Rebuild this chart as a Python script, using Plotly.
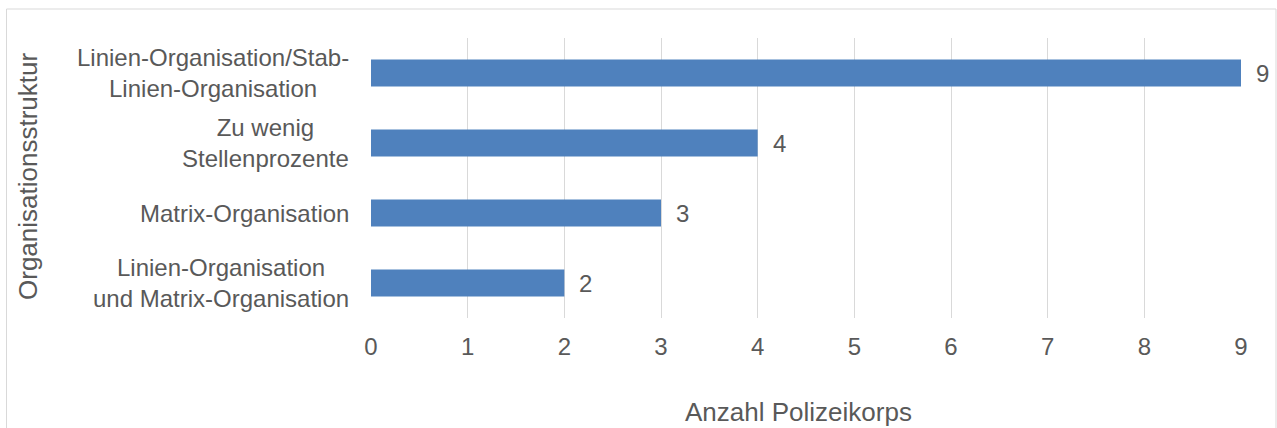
import plotly.graph_objects as go

categories = [
    "Linien-Organisation/Stab-<br>Linien-Organisation",
    "Zu wenig<br>Stellenprozente",
    "Matrix-Organisation",
    "Linien-Organisation<br>und Matrix-Organisation",
]
values = [9, 4, 3, 2]
x_ticks = [0, 1, 2, 3, 4, 5, 6, 7, 8, 9]
x_title = "Anzahl Polizeikorps"
y_title = "Organisationsstruktur"

W, H = 1277, 428
L, R, T, B = 371, 1241, 38, 318
pw, ph = R - L, B - T

def px_x(p):
    return (p - L) / pw

def px_y(p):
    return (B - p) / ph

TXT = "#595959"
FONT = "Liberation Sans, Arial, sans-serif"

fig = go.Figure()
fig.add_trace(go.Bar(
    x=values, y=categories, orientation="h",
    marker=dict(color="#4f81bd", line=dict(width=0)),
    hoverinfo="skip",
))

annotations = []
for c in categories:
    annotations.append(dict(
        x=0, xref="paper", y=c, yref="y", xanchor="right", yanchor="middle",
        xshift=-20, text=c, align="center", showarrow=False,
        font=dict(size=24, color=TXT, family=FONT),
    ))
for c, v in zip(categories, values):
    annotations.append(dict(
        x=v, xref="x", y=c, yref="y", xanchor="left", yanchor="middle",
        xshift=13, text=str(v), showarrow=False,
        font=dict(size=24, color=TXT, family=FONT),
    ))
annotations.append(dict(
    x=px_x(798), y=px_y(412), xref="paper", yref="paper",
    xanchor="center", yanchor="middle", text=x_title, showarrow=False,
    font=dict(size=26, color=TXT, family=FONT),
))
annotations.append(dict(
    x=px_x(28), y=px_y(177), xref="paper", yref="paper",
    xanchor="center", yanchor="middle", text=y_title, showarrow=False,
    textangle=-90, font=dict(size=26, color=TXT, family=FONT),
))

fig.update_layout(
    width=W, height=H,
    margin=dict(l=L, r=W - R, t=T, b=H - B, pad=0),
    paper_bgcolor="white", plot_bgcolor="white",
    showlegend=False, bargap=0.614,
    font=dict(family=FONT, color=TXT, size=24),
    xaxis=dict(
        range=[0, 9], tickvals=x_ticks, showgrid=True, gridcolor="#d9d9d9",
        gridwidth=1.3, zeroline=False, showline=False,
        tickfont=dict(size=24, color=TXT), ticklabelstandoff=12,
        fixedrange=True,
    ),
    yaxis=dict(
        categoryorder="array", categoryarray=categories, autorange="reversed",
        showticklabels=False, showgrid=False, zeroline=False, showline=False,
        fixedrange=True,
    ),
    annotations=annotations,
    shapes=[dict(
        type="rect", xref="paper", yref="paper",
        x0=px_x(6.5), x1=px_x(1276), y0=px_y(440), y1=px_y(9),
        line=dict(color="#d9d9d9", width=1), fillcolor="rgba(0,0,0,0)",
        layer="below",
    )],
)

fig.write_html(
    "out.html",
    config={"displayModeBar": False},
    post_script="document.body.style.margin='0';",
)
